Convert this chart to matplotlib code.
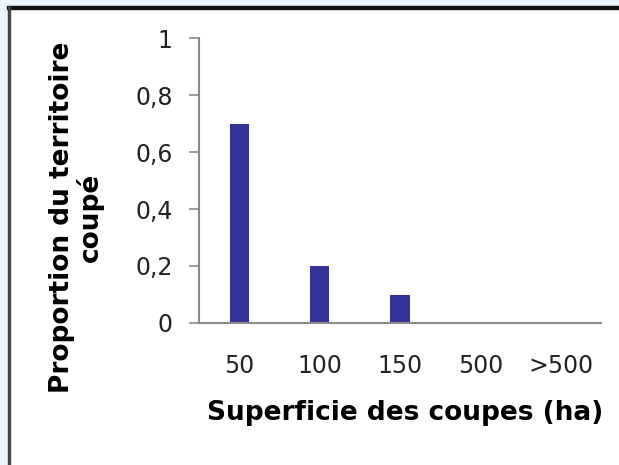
import matplotlib.pyplot as plt
from matplotlib.patches import Rectangle

# Data
categories = ['50', '100', '150', '500', '>500']
proportions = [0.7, 0.2, 0.1, 0, 0]
y_ticks = [0, 0.2, 0.4, 0.6, 0.8, 1]
y_tick_labels = ['0', '0,2', '0,4', '0,6', '0,8', '1']

W, H = 619, 465
fig = plt.figure(figsize=(W / 100, H / 100), dpi=100)

# Frame around the picture (light band + dark line, top and left)
band = '#eaf4fc'
fig.patches.append(Rectangle((0, 1 - 6 / H), 1, 6 / H, transform=fig.transFigure,
                             color=band, zorder=0))
fig.patches.append(Rectangle((0, 0), 7 / W, 1, transform=fig.transFigure,
                             color=band, zorder=0))
fig.patches.append(Rectangle((7 / W, 1 - 9 / H), 1, 3 / H, transform=fig.transFigure,
                             color='#111111', zorder=1))
fig.patches.append(Rectangle((8 / W, 0), 2 / W, 1 - 6 / H, transform=fig.transFigure,
                             color='#444444', zorder=1))

ax = fig.add_axes([199 / W, 1 - 323 / H, (601 - 199) / W, (323 - 38) / H])

x = range(len(categories))
ax.bar(x, proportions, width=0.24, color='#333399')

ax.set_xlim(-0.5, len(categories) - 0.5)
ax.set_ylim(0, 1)
ax.set_xticks(list(x))
ax.set_xticklabels(categories)
ax.set_yticks(y_ticks)
ax.set_yticklabels(y_tick_labels)

for side in ['top', 'right']:
    ax.spines[side].set_visible(False)
for side in ['left', 'bottom']:
    ax.spines[side].set_color('#8a8a8a')
    ax.spines[side].set_linewidth(1.5)

ax.tick_params(axis='x', length=0, pad=22, labelsize=17, colors='#222222')
ax.tick_params(axis='y', length=7, width=1.2, color='#8a8a8a', pad=12,
               labelsize=17, labelcolor='#222222')

fig.text(76 / W, 1 - 217 / H, 'Proportion du territoire\ncoupé', rotation=90,
         ha='center', va='center', multialignment='center', fontweight='bold',
         fontsize=19, linespacing=1.04)
fig.text(405 / W, 1 - 413 / H, 'Superficie des coupes (ha)', ha='center',
         va='center', fontweight='bold', fontsize=19)

fig.savefig('out.png', dpi=100)
